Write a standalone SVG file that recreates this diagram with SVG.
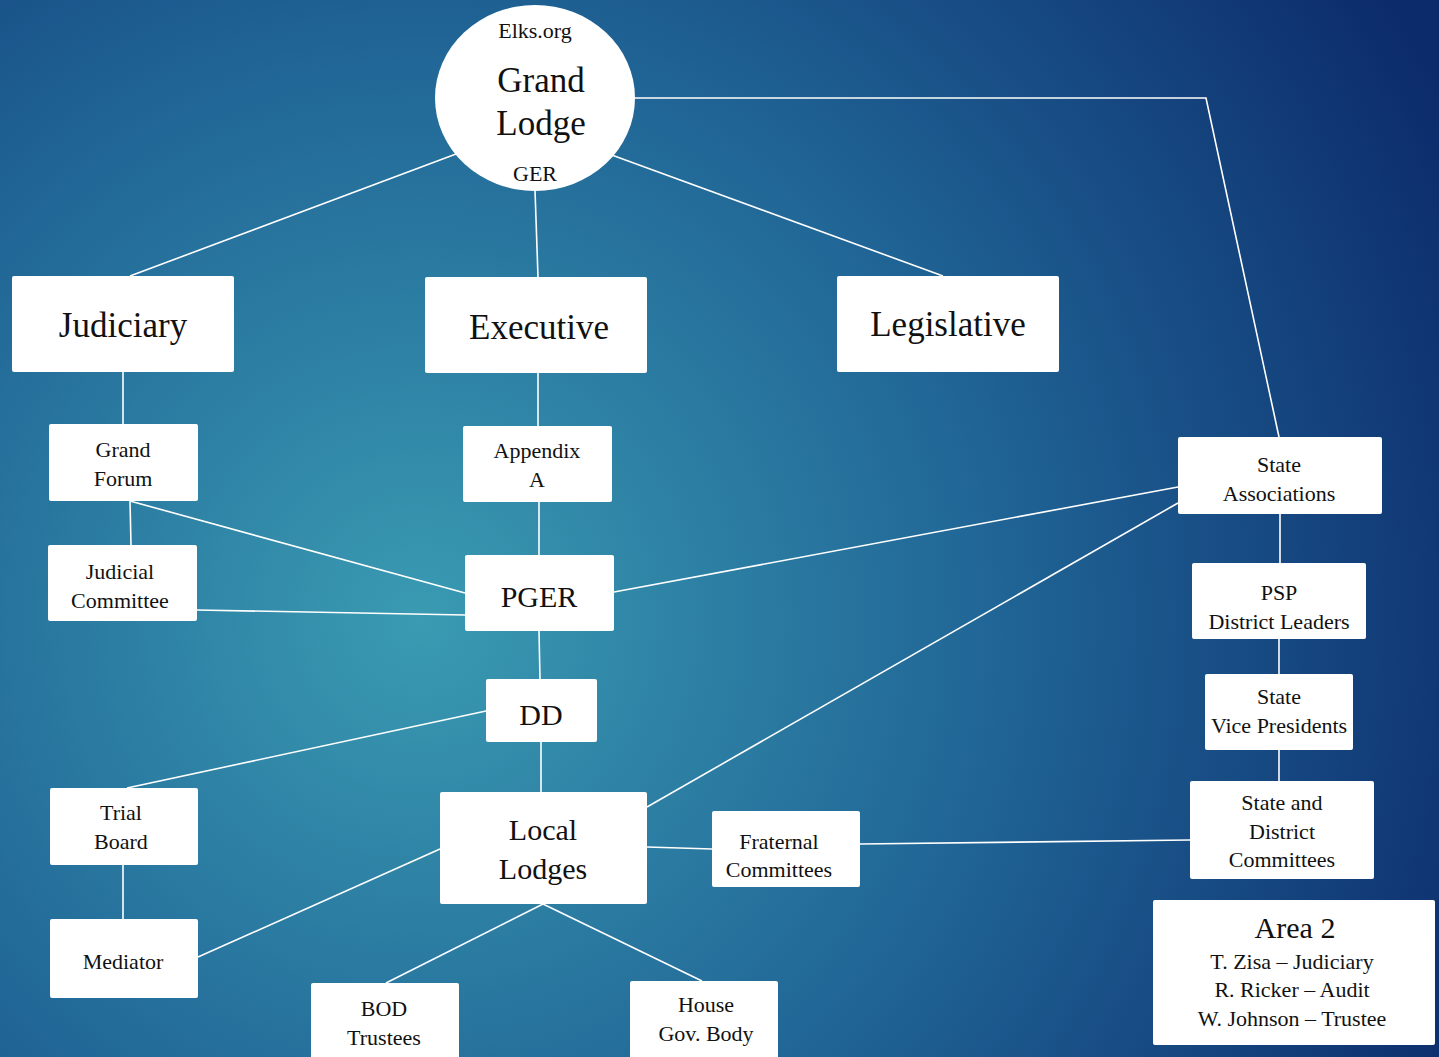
<svg xmlns="http://www.w3.org/2000/svg" width="1439" height="1057" viewBox="0 0 1439 1057">
<defs>
<radialGradient id="bg" cx="420" cy="620" r="1150" gradientUnits="userSpaceOnUse">
<stop offset="0" stop-color="#3a9bb2"/>
<stop offset="0.5" stop-color="#206596"/>
<stop offset="1" stop-color="#0c2b6b"/>
</radialGradient>
<clipPath id="svpClip"><rect x="1205" y="674" width="148" height="76"/></clipPath>
</defs>
<style>
.box{fill:#ffffff;}
.t{fill:#111111;text-anchor:middle;dominant-baseline:central;}
.s{font-size:22px;}
.m{font-size:30px;}
.l{font-size:35px;}
.c{stroke:#ffffff;stroke-width:1.6;fill:none;}
</style>
<rect width="1439" height="1057" fill="url(#bg)"/>
<g id="connectors">
<line class="c" x1="456" y1="154" x2="130" y2="276"/>
<line class="c" x1="535" y1="190" x2="538" y2="277"/>
<line class="c" x1="598" y1="150" x2="943" y2="276"/>
<polyline class="c" points="634,98 1206,98 1279,437"/>
<line class="c" x1="123" y1="372" x2="123" y2="424"/>
<line class="c" x1="130" y1="501" x2="131" y2="545"/>
<line class="c" x1="130" y1="501" x2="465" y2="593"/>
<line class="c" x1="197" y1="610" x2="465" y2="615"/>
<line class="c" x1="538" y1="373" x2="538" y2="426"/>
<line class="c" x1="539" y1="502" x2="539" y2="555"/>
<line class="c" x1="614" y1="592" x2="1178" y2="487"/>
<line class="c" x1="539" y1="631" x2="540" y2="679"/>
<line class="c" x1="486" y1="711" x2="127" y2="788"/>
<line class="c" x1="541" y1="742" x2="541" y2="792"/>
<line class="c" x1="647" y1="807" x2="1178" y2="503"/>
<line class="c" x1="647" y1="847" x2="712" y2="849"/>
<line class="c" x1="860" y1="844" x2="1190" y2="840"/>
<line class="c" x1="123" y1="865" x2="123" y2="919"/>
<line class="c" x1="198" y1="957" x2="440" y2="849"/>
<line class="c" x1="543" y1="904" x2="386" y2="983"/>
<line class="c" x1="543" y1="904" x2="702" y2="981"/>
<line class="c" x1="1280" y1="514" x2="1280" y2="563"/>
<line class="c" x1="1279" y1="639" x2="1279" y2="674"/>
<line class="c" x1="1279" y1="750" x2="1279" y2="781"/>
</g>
<g font-family="'Liberation Serif', 'Times New Roman', Tinos, 'DejaVu Serif', serif">
<g id="grand-lodge">
<ellipse class="box" cx="535" cy="98" rx="100" ry="93"/>
<text class="t s" x="535" y="30">Elks.org</text>
<text class="t l" x="541" y="80">Grand</text>
<text class="t l" x="541" y="123">Lodge</text>
<text class="t s" x="535" y="173">GER</text>
</g>
<g id="judiciary">
<rect class="box" x="12" y="276" width="222" height="96" rx="2"/>
<text class="t l" x="123" y="325">Judiciary</text>
</g>
<g id="executive">
<rect class="box" x="425" y="277" width="222" height="96" rx="2"/>
<text class="t l" x="539" y="327">Executive</text>
</g>
<g id="legislative">
<rect class="box" x="837" y="276" width="222" height="96" rx="2"/>
<text class="t l" x="948" y="324">Legislative</text>
</g>
<g id="grand-forum">
<rect class="box" x="49" y="424" width="149" height="77" rx="2"/>
<text class="t s" x="123" y="449">Grand</text>
<text class="t s" x="123" y="478">Forum</text>
</g>
<g id="judicial-committee">
<rect class="box" x="48" y="545" width="149" height="76" rx="2"/>
<text class="t s" x="120" y="571">Judicial</text>
<text class="t s" x="120" y="600">Committee</text>
</g>
<g id="appendix-a">
<rect class="box" x="463" y="426" width="149" height="76" rx="2"/>
<text class="t s" x="537" y="450">Appendix</text>
<text class="t s" x="537" y="479">A</text>
</g>
<g id="pger">
<rect class="box" x="465" y="555" width="149" height="76" rx="2"/>
<text class="t m" x="539" y="596">PGER</text>
</g>
<g id="dd">
<rect class="box" x="486" y="679" width="111" height="63" rx="2"/>
<text class="t m" x="541" y="714">DD</text>
</g>
<g id="local-lodges">
<rect class="box" x="440" y="792" width="207" height="112" rx="2"/>
<text class="t m" x="543" y="829">Local</text>
<text class="t m" x="543" y="868">Lodges</text>
</g>
<g id="fraternal-committees">
<rect class="box" x="712" y="811" width="148" height="76" rx="2"/>
<text class="t s" x="779" y="841">Fraternal</text>
<text class="t s" x="779" y="869">Committees</text>
</g>
<g id="trial-board">
<rect class="box" x="50" y="788" width="148" height="77" rx="2"/>
<text class="t s" x="121" y="812">Trial</text>
<text class="t s" x="121" y="841">Board</text>
</g>
<g id="mediator">
<rect class="box" x="50" y="919" width="148" height="79" rx="2"/>
<text class="t s" x="123" y="961">Mediator</text>
</g>
<g id="bod-trustees">
<rect class="box" x="311" y="983" width="148" height="80" rx="2"/>
<text class="t s" x="384" y="1008">BOD</text>
<text class="t s" x="384" y="1037">Trustees</text>
</g>
<g id="house-gov-body">
<rect class="box" x="630" y="981" width="148" height="82" rx="2"/>
<text class="t s" x="706" y="1004">House</text>
<text class="t s" x="706" y="1033">Gov. Body</text>
</g>
<g id="state-associations">
<rect class="box" x="1178" y="437" width="204" height="77" rx="2"/>
<text class="t s" x="1279" y="464">State</text>
<text class="t s" x="1279" y="493">Associations</text>
</g>
<g id="psp-district-leaders">
<rect class="box" x="1192" y="563" width="174" height="76" rx="2"/>
<text class="t s" x="1279" y="592">PSP</text>
<text class="t s" x="1279" y="621">District Leaders</text>
</g>
<g id="state-vice-presidents">
<rect class="box" x="1205" y="674" width="148" height="76" rx="2"/>
<g clip-path="url(#svpClip)">
<text class="t s" x="1279" y="696">State</text>
<text class="t s" x="1279" y="725">Vice Presidents</text>
</g>
</g>
<g id="state-district-committees">
<rect class="box" x="1190" y="781" width="184" height="98" rx="2"/>
<text class="t s" x="1282" y="802">State and</text>
<text class="t s" x="1282" y="831">District</text>
<text class="t s" x="1282" y="859">Committees</text>
</g>
<g id="area-2">
<rect class="box" x="1153" y="900" width="282" height="145" rx="2"/>
<text class="t" x="1295" y="927" font-size="30">Area 2</text>
<text class="t s" x="1292" y="961">T. Zisa – Judiciary</text>
<text class="t s" x="1292" y="989">R. Ricker – Audit</text>
<text class="t s" x="1292" y="1018">W. Johnson – Trustee</text>
</g>
</g>
</svg>
